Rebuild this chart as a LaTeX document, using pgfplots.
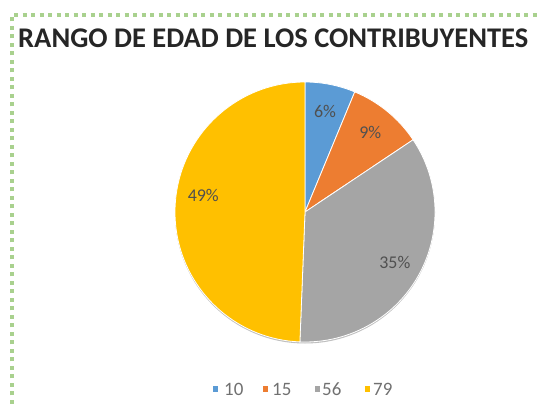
\documentclass[border=0pt]{standalone}
\usepackage{fontspec}
\setmainfont{Carlito}
\usepackage{pgfplots}
\usepackage{pgfplotstable}
\usetikzlibrary{calc}
\pgfplotsset{compat=1.18}
\definecolor{sBlue}{HTML}{5B9BD5}
\definecolor{sOrange}{HTML}{ED7D31}
\definecolor{sGray}{HTML}{A5A5A5}
\definecolor{sGold}{HTML}{FFC000}
\definecolor{bGreen}{HTML}{A9D18E}
\definecolor{lblText}{HTML}{505050}
\definecolor{legText}{HTML}{707070}
\definecolor{ttlText}{HTML}{262626}

\pgfplotstableread{
label value
10 10
15 15
56 56
79 79
}\piedata

\pgfplotstablegetelem{0}{value}\of\piedata \let\vA\pgfplotsretval
\pgfplotstablegetelem{1}{value}\of\piedata \let\vB\pgfplotsretval
\pgfplotstablegetelem{2}{value}\of\piedata \let\vC\pgfplotsretval
\pgfplotstablegetelem{3}{value}\of\piedata \let\vD\pgfplotsretval
\pgfplotstablegetelem{0}{label}\of\piedata \let\lA\pgfplotsretval
\pgfplotstablegetelem{1}{label}\of\piedata \let\lB\pgfplotsretval
\pgfplotstablegetelem{2}{label}\of\piedata \let\lC\pgfplotsretval
\pgfplotstablegetelem{3}{label}\of\piedata \let\lD\pgfplotsretval
\pgfmathsetmacro\total{\vA+\vB+\vC+\vD}
\pgfmathsetmacro\fA{\vA/\total}
\pgfmathsetmacro\fB{\vB/\total}
\pgfmathsetmacro\fC{\vC/\total}
\pgfmathsetmacro\fD{\vD/\total}
\pgfmathsetmacro\aZ{90}
\pgfmathsetmacro\aA{90-360*\fA}
\pgfmathsetmacro\aB{\aA-360*\fB}
\pgfmathsetmacro\aC{\aB-360*\fC}
\pgfmathsetmacro\aD{\aC-360*\fD}
\pgfmathsetmacro\mA{(\aZ+\aA)/2}
\pgfmathsetmacro\mB{(\aA+\aB)/2}
\pgfmathsetmacro\mC{(\aB+\aC)/2}
\pgfmathsetmacro\mD{(\aC+\aD)/2-8}
\pgfmathtruncatemacro\pA{round(100*\fA)}
\pgfmathtruncatemacro\pB{round(100*\fB)}
\pgfmathtruncatemacro\pC{round(100*\fC)}
\pgfmathtruncatemacro\pD{round(100*\fD)}

\def\cx{305}
\def\cy{192}
\def\R{130bp}
\def\LR{103bp}

\begin{document}
\begin{tikzpicture}
\begin{axis}[
  x=1bp, y=1bp, scale only axis,
  xmin=0, xmax=537, ymin=0, ymax=404,
  hide axis, clip=false,
]
% border
\draw[bGreen, line width=4bp, dash pattern=on 4bp off 4.5bp]
  (axis cs:12,0) -- (axis cs:12,389) -- (axis cs:537,389);
% title
\node[anchor=base west, inner sep=0pt, text=ttlText, font=\fontsize{28.6}{31}\selectfont\bfseries]
  at (axis cs:18,357) {RANGO DE EDAD DE LOS CONTRIBUYENTES};
% shadow
\fill[black, opacity=0.25] (axis cs:\cx,\cy) ++(0,-1.5bp) circle[radius=\R];
% slices
\fill[sBlue, draw=white, line width=0.8bp] (axis cs:\cx,\cy) -- ++(\aZ:\R) arc[start angle=\aZ, end angle=\aA, radius=\R] -- cycle;
\fill[sOrange, draw=white, line width=0.8bp] (axis cs:\cx,\cy) -- ++(\aA:\R) arc[start angle=\aA, end angle=\aB, radius=\R] -- cycle;
\fill[sGray, draw=white, line width=0.8bp] (axis cs:\cx,\cy) -- ++(\aB:\R) arc[start angle=\aB, end angle=\aC, radius=\R] -- cycle;
\fill[sGold, draw=white, line width=0.8bp] (axis cs:\cx,\cy) -- ++(\aC:\R) arc[start angle=\aC, end angle=\aD, radius=\R] -- cycle;
% labels
\begin{scope}[every node/.style={text=lblText, font=\fontsize{18}{20}\selectfont, inner sep=0pt}]
\node at ($(axis cs:\cx,\cy)+(\mA:\LR)$) {\pA\%};
\node at ($(axis cs:\cx,\cy)+(\mB:\LR)$) {\pB\%};
\node at ($(axis cs:\cx,\cy)+(\mC:\LR)$) {\pC\%};
\node at ($(axis cs:\cx,\cy)+(\mD:\LR)$) {\pD\%};
\end{scope}
% legend
\begin{scope}[every node/.style={text=legText, font=\fontsize{19}{21}\selectfont, inner sep=0pt, anchor=west}]
\fill[sBlue] (axis cs:212.5,12.5) rectangle (axis cs:217.5,17.5);
\node at (axis cs:224,15) {\lA};
\fill[sOrange] (axis cs:262.5,12.5) rectangle (axis cs:267.5,17.5);
\node at (axis cs:272,15) {\lB};
\fill[sGray] (axis cs:314.5,12.5) rectangle (axis cs:319.5,17.5);
\node at (axis cs:322,15) {\lC};
\fill[sGold] (axis cs:364.5,12.5) rectangle (axis cs:369.5,17.5);
\node at (axis cs:373,15) {\lD};
\end{scope}
\end{axis}
\pgfresetboundingbox
\path (0,0) rectangle (537bp,404bp);
\end{tikzpicture}
\end{document}
